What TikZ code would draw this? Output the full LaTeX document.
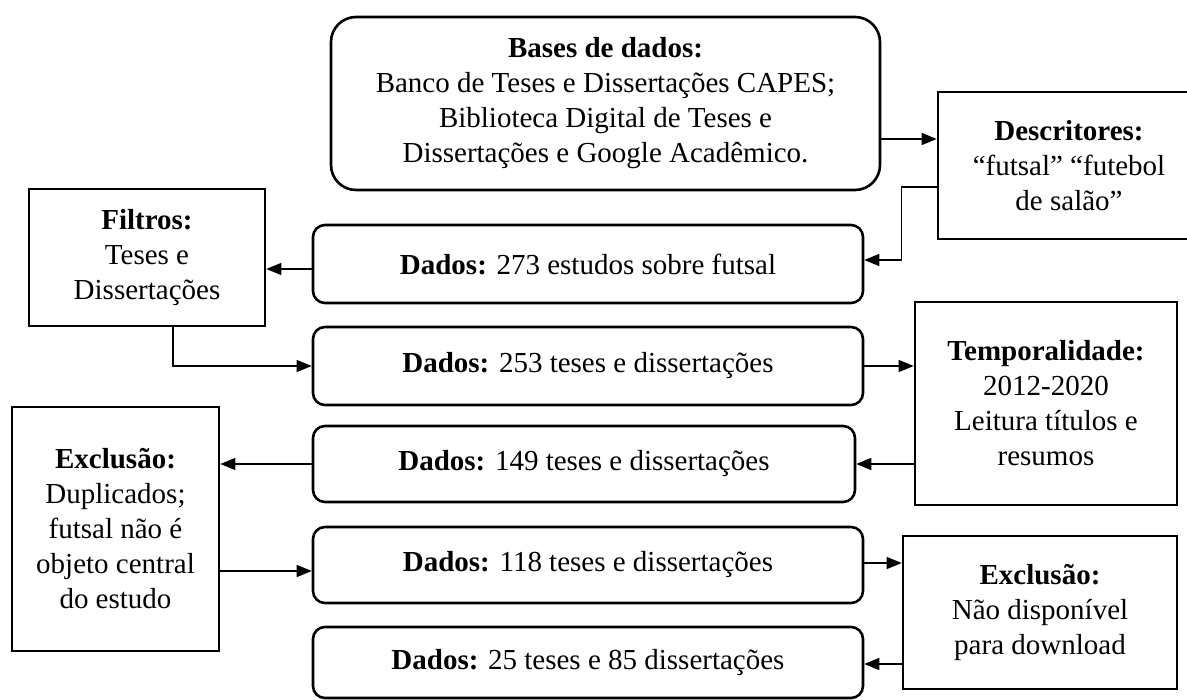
\documentclass[tikz,border=0pt]{standalone}
\usepackage{fontspec}
\setmainfont{Liberation Serif}
\usetikzlibrary{arrows.meta,positioning,calc}

\begin{document}
\begin{tikzpicture}[
  x=1pt,y=-1pt,
  >={Triangle[length=15pt,width=12pt]},
  g/.style={draw=black,line width=2.6pt,inner sep=0pt,align=center,font=\fontsize{29}{35}\selectfont},
  dado/.style={g,rounded corners=12pt,minimum width=550pt,minimum height=78pt},
  info/.style={g},
  seta/.style={->,line width=1.3pt}
]
  \useasboundingbox (0,0) rectangle (1187,700);

  % Top: sources and descriptors
  \node[g,rounded corners=25pt,minimum width=549pt,minimum height=173pt] (bases) at (605.5,103.5)
    {\textbf{Bases de dados:}\\Banco de Teses e Dissertações CAPES;\\Biblioteca Digital de Teses e\\Dissertações e Google Acadêmico.};
  \node[info,minimum width=262pt,minimum height=147pt] (descr) at (1069,165.5)
    {\textbf{Descritores:}\\“futsal” “futebol\\de salão”};

  % Data column
  \node[dado] (dados1) at (588,264) {\textbf{Dados:} 273 estudos sobre futsal};
  \node[dado] (dados2) at (588,366) {\textbf{Dados:} 253 teses e dissertações};
  \node[dado,minimum width=542pt,minimum height=76pt] (dados3) at (584,464) {\textbf{Dados:} 149 teses e dissertações};
  \node[dado,minimum height=76pt] (dados4) at (588,565) {\textbf{Dados:} 118 teses e dissertações};
  \node[dado,minimum height=71pt] (dados5) at (588,662.5) {\textbf{Dados:} 25 teses e 85 dissertações};

  % Side boxes
  \node[info,minimum width=236pt,minimum height=137pt] (filtros) at (147,257.5)
    {\textbf{Filtros:}\\Teses e\\Dissertações};
  \node[info,minimum width=262pt,minimum height=203pt] (temp) at (1046,403.5)
    {\textbf{Temporalidade:}\\2012-2020\\Leitura títulos e\\resumos};
  \node[info,minimum width=207pt,minimum height=244pt] (excl1) at (115.5,529)
    {\textbf{Exclusão:}\\Duplicados;\\futsal não é\\objeto central\\do estudo};
  \node[info,minimum width=274pt,minimum height=153pt] (excl2) at (1040,612.5)
    {\textbf{Exclusão:}\\Não disponível\\para download};

  % Connectors
  \draw[seta] ([yshift=-35.5pt]bases.east) -- ([yshift=-35.5pt]bases.east -| descr.west);
  \draw[seta] ([yshift=-21.5pt]descr.west) -- ++(-35,0) |- ([yshift=4pt]dados1.east);
  \draw[seta] ([yshift=-5pt]dados1.west) -- ([yshift=-5pt]dados1.west -| filtros.east);
  \draw[seta] ([xshift=26pt]filtros.south) |- (dados2.west);
  \draw[seta] (dados2.east) -- (dados2.east -| temp.west);
  \draw[seta] (temp.west |- dados3.east) -- (dados3.east);
  \draw[seta] (dados3.west) -- (dados3.west -| excl1.east);
  \draw[seta] ([yshift=-6pt]dados4.west -| excl1.east) -- ([yshift=-6pt]dados4.west);
  \draw[seta] ([yshift=2pt]dados4.east) -- ([yshift=2pt]dados4.east -| excl2.west);
  \draw[seta] ([yshift=-1.5pt]dados5.east -| excl2.west) -- ([yshift=-1.5pt]dados5.east);
\end{tikzpicture}
\end{document}
